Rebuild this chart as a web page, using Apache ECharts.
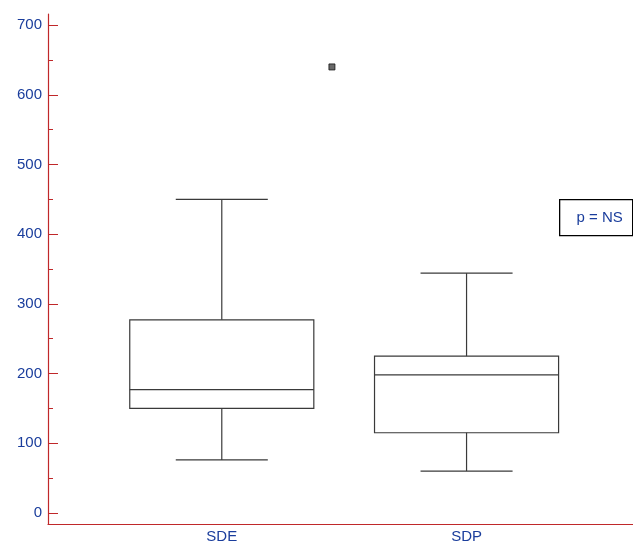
<!DOCTYPE html>
<html>
<head>
<meta charset="utf-8">
<script src="https://cdn.jsdelivr.net/npm/echarts@6/dist/echarts.min.js"></script>
<style>
  html, body { margin: 0; padding: 0; background: #fff; }
  #chart { width: 633px; height: 543px; }
</style>
</head>
<body>
<div id="chart"></div>
<script>
// categories and box statistics: [min, Q1, median, Q3, max]
const categories = ['SDE', 'SDP']
const boxSDE = [76, 150, 177, 277, 450]
const boxSDP = [60, 115, 198, 225, 344]
const outliers = [[1.45, 640]]
const yMajorTicks = [0, 100, 200, 300, 400, 500, 600, 700]
const yMinorTicks = [50, 150, 250, 350, 450, 550, 650]
const pLabel = 'p = NS'

const axisRed = '#c0282a'
const labelBlue = '#1a3d9c'
const boxColor = '#3a3a3a'
const font = '"Liberation Sans", Arial, sans-serif'

const boxRows = [boxSDE, boxSDP].map((b, i) => [i + 1, ...b])

const chart = echarts.init(document.getElementById('chart'))

function renderBox(params, api) {
  const x = api.value(0)
  const pLo = api.coord([x, api.value(1)])
  const pQ1 = api.coord([x, api.value(2)])
  const pMed = api.coord([x, api.value(3)])
  const pQ3 = api.coord([x, api.value(4)])
  const pHi = api.coord([x, api.value(5)])
  const halfBox = api.size([0.752, 0])[0] / 2
  const halfCap = halfBox / 2
  const cx = pQ1[0]
  const st = { stroke: boxColor, lineWidth: 1.2, fill: null }
  return {
    type: 'group',
    children: [
      { type: 'rect', shape: { x: cx - halfBox, y: pQ3[1], width: halfBox * 2, height: pQ1[1] - pQ3[1] }, style: st },
      { type: 'line', shape: { x1: cx - halfBox, y1: pMed[1], x2: cx + halfBox, y2: pMed[1] }, style: st },
      { type: 'line', shape: { x1: cx, y1: pQ3[1], x2: cx, y2: pHi[1] }, style: st },
      { type: 'line', shape: { x1: cx, y1: pQ1[1], x2: cx, y2: pLo[1] }, style: st },
      { type: 'line', shape: { x1: cx - halfCap, y1: pHi[1], x2: cx + halfCap, y2: pHi[1] }, style: st },
      { type: 'line', shape: { x1: cx - halfCap, y1: pLo[1], x2: cx + halfCap, y2: pLo[1] }, style: st }
    ]
  }
}

chart.setOption({
  animation: false,
  backgroundColor: '#fff',
  grid: { left: 48, right: 0, top: 14, bottom: 19, outerBoundsMode: 'none' },
  xAxis: {
    type: 'value',
    min: 0.29,
    max: 2.68,
    axisLine: { onZero: false, lineStyle: { color: axisRed, width: 1.2 } },
    axisTick: { show: false },
    splitLine: { show: false },
    axisLabel: {
      customValues: [1, 2],
      formatter: v => categories[Math.round(v) - 1] || '',
      color: labelBlue, fontSize: 15, fontFamily: font, margin: 5
    }
  },
  yAxis: [
    {
      type: 'value',
      min: -16,
      max: 716,
      axisLine: { show: true, onZero: false, lineStyle: { color: axisRed, width: 1.2 } },
      axisTick: { show: true, inside: true, length: 10, customValues: yMajorTicks, lineStyle: { color: axisRed } },
      splitLine: { show: false },
      axisLabel: { customValues: yMajorTicks, color: labelBlue, fontSize: 15, fontFamily: font, margin: 6 }
    },
    {
      type: 'value',
      min: -16,
      max: 716,
      position: 'left',
      axisLine: { show: false, onZero: false },
      axisTick: { show: true, inside: true, length: 5, customValues: yMinorTicks, lineStyle: { color: axisRed } },
      splitLine: { show: false },
      axisLabel: { show: false }
    }
  ],
  series: [
    {
      type: 'custom',
      renderItem: renderBox,
      data: boxRows,
      encode: { x: 0, y: [1, 2, 3, 4, 5] },
      silent: true
    },
    {
      type: 'scatter',
      data: outliers,
      symbol: 'rect',
      symbolSize: 6,
      itemStyle: { color: '#444', borderColor: '#111', borderWidth: 1 },
      silent: true
    }
  ],
  graphic: [
    {
      type: 'group',
      left: 559,
      top: 199,
      children: [
        { type: 'rect', shape: { x: 0, y: 0, width: 73, height: 36 }, style: { fill: '#fff', stroke: '#000', lineWidth: 1.3 } },
        { type: 'text', x: 40, y: 18, style: { text: pLabel, fill: labelBlue, font: '15px ' + font, align: 'center', verticalAlign: 'middle' } }
      ]
    }
  ]
})
</script>
</body>
</html>
